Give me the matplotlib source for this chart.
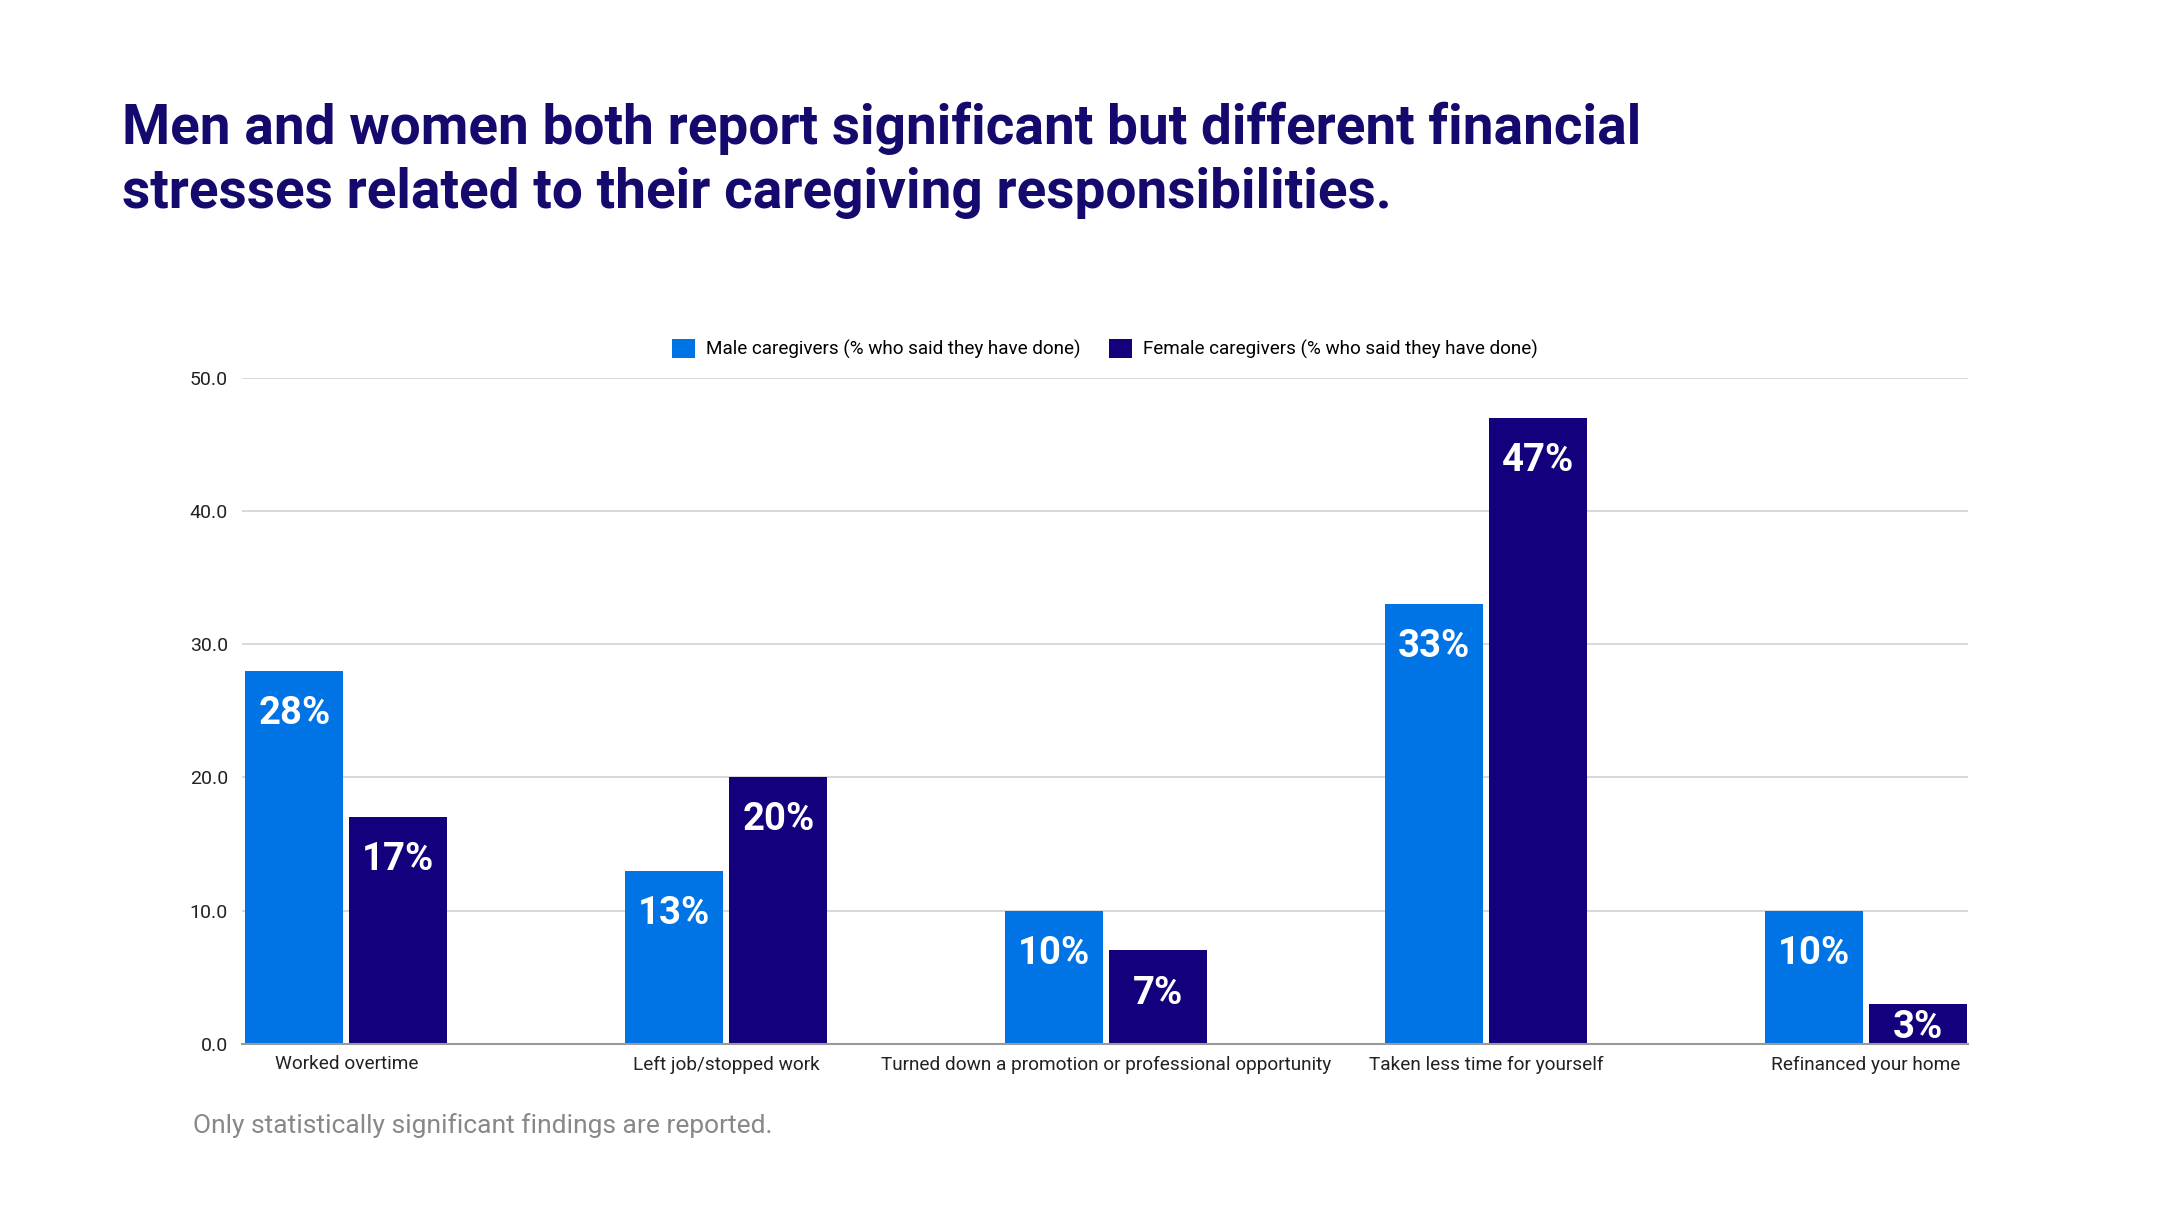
import numpy as np
import matplotlib
matplotlib.use("Agg")
import matplotlib.pyplot as plt

categories = ["Worked overtime", "Left job/stopped work",
              "Turned down a promotion or professional opportunity",
              "Taken less time for yourself", "Refinanced your home"]
male = [28, 13, 10, 33, 10]
female = [17, 20, 7, 47, 3]
series_names = ["Male caregivers (% who said they have done)",
                "Female caregivers (% who said they have done)"]
yticks = [0, 10, 20, 30, 40, 50]

male_color = "#0074E4"
female_color = "#13007C"
title_color = "#140A6E"

plt.rcParams['font.family'] = ['Roboto', 'DejaVu Sans']

fig = plt.figure(figsize=(21.6, 12.15), dpi=100)
ax = fig.add_axes([0.112, 0.141, 0.799, 0.548])

x = np.arange(len(categories))
w = 0.258
gap = 0.008
b1 = ax.bar(x - w/2 - gap, male, w, color=male_color, label=series_names[0], zorder=3)
b2 = ax.bar(x + w/2 + gap, female, w, color=female_color, label=series_names[1], zorder=3)

# labels sit inside the top of each bar, kept inside short bars
for bars, vals in ((b1, male), (b2, female)):
  for rect, v in zip(bars, vals):
    ax.text(rect.get_x() + rect.get_width()/2, max(v - 3.2, 1.2), f"{v}%",
            ha="center", va="center", color="white",
            fontsize=27.5, fontweight="bold", zorder=4)

ax.set_xlim(-0.275, 4.268)
ax.set_ylim(0, 50)
ax.set_yticks(yticks)
ax.set_yticklabels([f"{t:.1f}" for t in yticks], fontsize=14, color="#222222")
ax.set_xticks(x)
ax.set_xticklabels(categories, fontsize=13.7, color="#222222")
ax.tick_params(axis="both", length=0)
ax.tick_params(axis="y", pad=10)
ax.tick_params(axis="x", pad=8.5)
ax.yaxis.grid(True, color="#d6d6d6", linewidth=1.3, zorder=0)
for s in ["top", "right", "left"]:
  ax.spines[s].set_visible(False)
ax.spines["bottom"].set_color("#999999")
ax.spines["bottom"].set_linewidth(1.5)
ax.spines["bottom"].set_zorder(5)

ax.legend(loc="center", bbox_to_anchor=(0.5, 1.043), ncol=2, frameon=False,
          fontsize=13.6, handlelength=1.2, handleheight=1.2, handletextpad=0.6,
          columnspacing=1.5)

fig.text(0.0565, 0.894, "Men and women both report significant but different financial",
         fontsize=39.6, fontweight="bold", color=title_color, va="center")
fig.text(0.0565, 0.841, "stresses related to their caregiving responsibilities.",
         fontsize=39.6, fontweight="bold", color=title_color, va="center")
fig.text(0.0893, 0.074, "Only statistically significant findings are reported.",
         fontsize=19, color="#888888", va="center")

fig.savefig("out.png", dpi=100)
